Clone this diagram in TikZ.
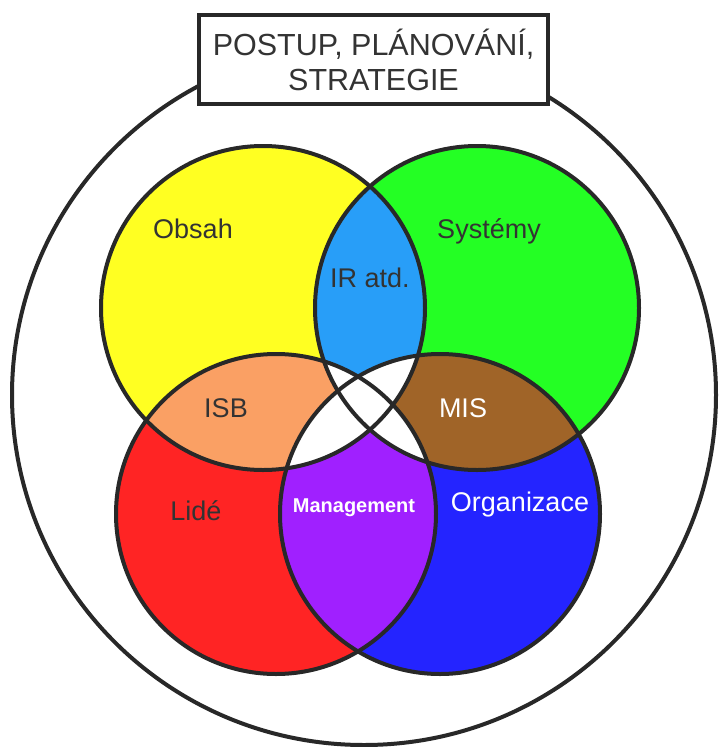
\documentclass[tikz,border=0pt]{standalone}
\usepackage{fontspec}
\setmainfont{Liberation Sans}
\definecolor{cYel}{RGB}{255,255,34}
\definecolor{cGrn}{RGB}{36,255,36}
\definecolor{cRed}{RGB}{255,36,36}
\definecolor{cBlu}{RGB}{36,36,255}
\definecolor{cSky}{RGB}{40,158,248}
\definecolor{cOra}{RGB}{250,160,100}
\definecolor{cBrn}{RGB}{160,100,40}
\definecolor{cPur}{RGB}{160,32,255}
\definecolor{cLine}{RGB}{40,40,40}
\definecolor{cTxt}{RGB}{51,51,51}
\tikzset{
  ring/.style={draw=cLine, line width=4pt},
  lbl/.style={anchor=base, text=cTxt, font=\fontsize{27}{30}\selectfont, inner sep=0pt},
  wlbl/.style={lbl, text=white},
  titlebox/.style={draw=cLine, line width=4pt, fill=white, align=center, text=cTxt,
    font=\fontsize{30.5}{35}\selectfont, minimum width=349pt, minimum height=89pt, inner sep=0pt}
}
\begin{document}
\begin{tikzpicture}[x=1pt,y=-1pt]
\useasboundingbox (0,0) rectangle (720,747);
\def\Y{(263,308) circle[radius=162pt]}
\def\G{(477,308) circle[radius=162pt]}
\def\R{(276,514) circle[radius=160pt]}
\def\B{(440,514) circle[radius=160pt]}
% outer ellipse
\draw[ring] (364,395) ellipse[x radius=352pt, y radius=350pt];
% base fills
\fill[cYel] \Y; \fill[cGrn] \G; \fill[cRed] \R; \fill[cBlu] \B;
% pairwise overlaps
\begin{scope}\clip \Y; \fill[cSky] \G; \end{scope}
\begin{scope}\clip \Y; \fill[cOra] \R; \end{scope}
\begin{scope}\clip \G; \fill[cBrn] \B; \end{scope}
\begin{scope}\clip \R; \fill[cPur] \B; \end{scope}
\begin{scope}\clip \Y; \fill[white] \B; \end{scope}
\begin{scope}\clip \G; \fill[white] \R; \end{scope}
% outlines
\draw[ring] \Y; \draw[ring] \G; \draw[ring] \R; \draw[ring] \B;
% title box
\node[titlebox] (title) at (373.5,59.5) {POSTUP, PLÁNOVÁNÍ,\\STRATEGIE};
% labels
\node[lbl] (obsah) at (193,238) {Obsah};
\node[lbl] (sys) at (489,238) {Systémy};
\node[lbl] (ir) at (370,287) {IR atd.};
\node[lbl] (isb) at (226,417) {ISB};
\node[wlbl] (mis) at (463,417) {MIS};
\node[lbl] (lide) at (196,520) {Lidé};
\node[wlbl, font=\fontsize{20}{24}\selectfont\bfseries] (mgmt) at (354,512) {Management};
\node[wlbl] (org) at (520,511) {Organizace};
\end{tikzpicture}
\end{document}
